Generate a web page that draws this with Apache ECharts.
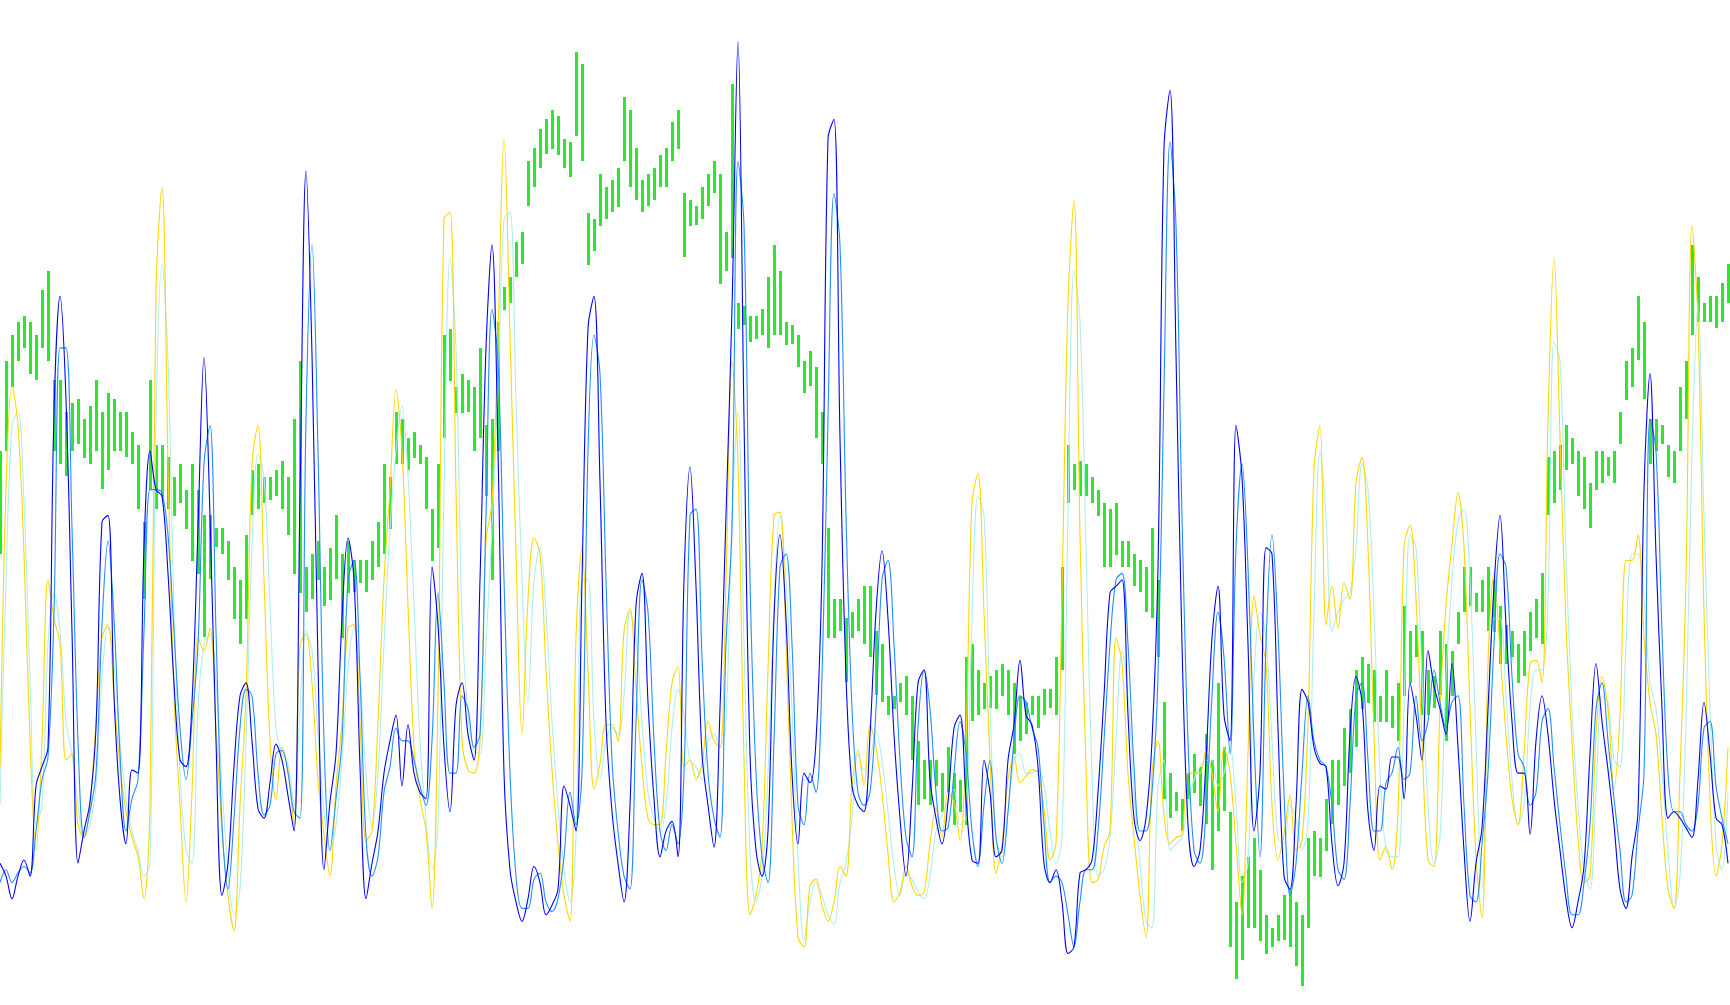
<!DOCTYPE html>
<html>
<head>
<meta charset="utf-8">
<script src="https://cdn.jsdelivr.net/npm/echarts@6/dist/echarts.min.js"></script>
<style>
html,body{margin:0;padding:0;background:#fff;overflow:hidden;}
#chart{width:1730px;height:1005px;}
</style>
</head>
<body>
<div id="chart"></div>
<script>
// bar index labels (289 bars)
const categories = Array.from({length: 289}, (_, i) => String(i + 1));

// Level scale: 0 (top) .. 1560 (bottom) ; axis is inverted
const yellowLine = [1190,760,600,660,860,1150,1320,1150,900,960,1000,1180,1170,1280,1300,1250,1120,990,970,1080,1190,1260,1300,1330,1395,1250,450,290,720,1080,1250,1400,1230,990,1010,975,1130,1290,1390,1445,1250,1080,
720,660,900,1150,1240,1160,1195,1280,1000,985,1060,1210,1295,1360,1220,1120,975,970,1120,1305,1290,1120,900,760,605,700,940,1160,1240,1290,1410,1080,340,330,760,1150,1195,1200,1150,840,780,
520,215,520,860,1140,930,835,860,1040,1195,1310,1390,1430,990,850,1040,1225,1185,1125,1125,1150,980,945,1070,1190,1270,1280,1280,1170,1060,1035,1190,1180,1210,1185,1120,1150,1160,900,560,720,
1180,1420,1390,1320,1040,800,795,1000,1270,1455,1470,1375,1365,1405,1430,1400,1345,1360,1220,1165,1220,1125,1160,1230,1325,1400,1385,1345,1375,1390,1385,1310,1255,1300,1230,1245,1305,1150,780,735,950,
1180,1355,1310,1210,1175,1215,1205,1195,1200,1255,1335,1310,920,470,310,830,1190,1370,1365,1315,1290,990,1030,1200,1300,1390,1455,1200,1150,1265,1310,1300,1295,1200,1200,1200,1165,1200,1260,1160,1200,
1310,1420,1170,925,985,1030,1250,1335,1295,1235,1320,1305,1120,730,660,970,910,975,905,930,750,710,850,1140,1335,1315,1350,1260,850,815,930,1150,1335,1345,1100,940,845,765,850,1100,1330,1425,
1030,890,1010,1140,1240,1280,1170,1030,1025,1060,650,400,680,970,1150,1300,1370,1360,1140,1050,1100,1225,1110,870,870,830,990,1090,1140,1270,1380,1410,1200,900,350,500,950,1240,1360,1310,1160];

const cyanLine = [1250,900,660,640,780,1050,1280,1250,1000,920,980,1120,1170,1250,1300,1280,1220,1050,975,1030,1150,1240,1290,1320,1360,1340,650,410,560,950,1200,1320,1340,1100,1000,985,1060,1220,1350,1420,1380,1150,
850,705,740,940,1130,1170,1185,1250,1100,980,1010,1140,1260,1320,1280,1180,1040,975,1050,1200,1285,1200,1000,820,700,630,740,940,1150,1270,1350,1280,760,400,540,960,1110,1165,1170,1000,820,
600,340,330,620,900,1090,900,850,950,1120,1250,1350,1400,1300,900,900,1120,1210,1150,1130,1140,1080,950,990,1120,1230,1270,1290,1250,1130,1070,1110,1180,1190,1210,1150,1140,1160,1120,800,640,
1000,1320,1400,1360,1200,940,800,900,1100,1330,1460,1400,1370,1390,1420,1435,1370,1340,1270,1170,1195,1180,1135,1180,1260,1345,1390,1355,1365,1385,1395,1360,1290,1265,1245,1225,1280,1270,960,770,800,
1100,1300,1330,1260,1180,1170,1200,1200,1195,1220,1290,1340,1300,800,420,500,850,1200,1360,1350,1300,1150,1010,1080,1230,1340,1430,1440,1220,1180,1320,1310,1300,1250,1210,1190,1180,1180,1220,1200,1160,
1250,1370,1340,1050,950,990,1150,1300,1310,1250,1270,1320,1280,950,700,800,980,950,930,920,850,720,760,950,1200,1320,1330,1330,1100,830,850,1050,1250,1340,1300,1050,900,810,790,900,1150,1380,
1150,960,960,1080,1210,1280,1250,1100,1040,1040,930,530,560,860,1100,1250,1350,1380,1230,1080,1090,1180,1190,1000,860,860,930,1060,1100,1200,1320,1410,1360,1120,700,470,800,1100,1310,1350,1230];

const blueLine = [1340,1360,1395,1360,1335,1360,1220,1190,1160,640,460,620,980,1340,1290,1245,1130,810,800,1080,1240,1310,1195,1200,850,700,760,770,890,1060,1180,1190,1090,820,555,800,1150,1390,1340,1190,1080,1060,
1150,1255,1270,1215,1155,1180,1235,1290,770,265,550,1030,1350,1245,1170,960,835,900,1190,1395,1340,1290,1200,1150,1110,1220,1125,1200,1230,1240,880,970,1160,1260,1095,1060,1140,1180,900,540,380,
700,1200,1350,1400,1430,1395,1345,1370,1420,1405,1380,1220,1250,1290,900,510,460,750,1120,1260,1340,1400,1250,940,890,1090,1240,1330,1290,1275,1330,900,725,910,1170,1250,1315,1100,800,480,65,
650,1170,1320,1360,1290,960,830,960,1200,1310,1200,1215,1150,880,215,185,680,1050,1220,1250,1260,1140,950,855,960,1140,1270,1360,1230,1060,1040,1210,1270,1310,1245,1130,1110,1240,1335,1340,1180,
1230,1330,1320,1180,1125,1025,1110,1125,1190,1340,1370,1350,1400,1480,1470,1355,1350,1335,1230,1080,920,910,900,1110,1270,1305,1270,1150,880,230,140,550,1000,1280,1345,1320,1180,990,910,1110,1150,
660,740,1000,1290,1200,850,860,1130,1360,1380,1250,1070,1090,1160,1185,1190,1310,1375,1340,1140,1050,1090,1260,1320,1220,1225,1175,1175,1240,1060,1110,1180,1010,1065,1100,1140,1030,1160,1320,1430,1340,1285,
1100,910,800,970,1120,1200,1200,1295,1150,1080,1140,1240,1320,1395,1440,1400,1345,1170,1030,1120,1195,1280,1380,1410,1330,1260,760,580,860,1100,1270,1260,1270,1285,1300,1210,1090,1170,1270,1280,1340];

const dodgerLine = [1370,1350,1370,1355,1345,1355,1290,1210,1175,950,540,540,820,1150,1300,1260,1200,970,840,960,1170,1290,1240,1210,980,760,760,765,830,980,1130,1210,1120,1000,720,660,980,1280,1380,1270,1130,1070,
1080,1200,1265,1250,1170,1165,1200,1260,1270,650,380,700,1150,1320,1240,1150,900,870,1050,1300,1360,1330,1230,1190,1130,1150,1150,1180,1220,1250,1150,920,1060,1200,1200,1080,1100,1160,1140,800,480,
560,900,1200,1360,1410,1410,1365,1355,1400,1415,1395,1330,1230,1280,1200,700,520,580,900,1180,1290,1360,1380,1120,900,950,1150,1290,1320,1280,1310,1200,800,790,1020,1200,1270,1300,1000,820,250,
350,900,1200,1330,1370,1150,880,860,1000,1250,1280,1200,1230,1050,650,300,380,800,1100,1230,1250,1230,1100,900,870,1000,1180,1300,1330,1130,1040,1100,1230,1290,1285,1200,1120,1170,1290,1345,1250,
1180,1300,1340,1260,1150,1080,1090,1130,1160,1280,1370,1360,1370,1420,1470,1400,1350,1350,1290,1150,1000,900,890,1000,1190,1290,1290,1230,1050,600,220,350,800,1150,1320,1340,1260,1080,950,1020,1170,
850,720,880,1150,1330,1000,830,980,1230,1390,1340,1200,1080,1150,1180,1190,1250,1350,1365,1250,1080,1060,1180,1290,1290,1215,1200,1160,1210,1200,1080,1150,1120,1040,1090,1130,1090,1080,1250,1390,1400,1310,
1200,1000,860,880,1050,1170,1190,1250,1230,1120,1100,1190,1280,1360,1420,1420,1370,1280,1100,1060,1150,1240,1320,1400,1390,1290,1200,650,700,980,1200,1260,1260,1280,1290,1250,1130,1120,1220,1270,1310];

// green high-low bars: upper end (smaller level) and lower end
const barTop = [700,560,520,500,490,500,520,450,420,590,590,640,625,620,650,630,590,640,610,620,640,640,670,690,810,590,690,690,710,740,720,760,720,760,800,800,820,820,840,880,900,830,
730,720,740,740,730,715,740,650,560,880,860,840,880,850,800,860,840,870,870,870,840,810,720,740,640,650,680,670,690,710,790,720,520,510,600,580,590,600,540,660,650,
500,445,430,375,360,250,230,200,185,170,180,215,220,80,100,330,340,270,290,280,260,150,170,230,280,270,260,240,230,190,170,300,310,320,290,270,250,270,360,130,470,
475,490,490,480,430,380,420,500,505,520,560,545,570,640,820,930,930,960,950,930,910,910,980,1000,1080,1080,1060,1050,1080,1150,1180,1180,1180,1200,1160,1200,1210,1020,1000,1040,1060,
1050,1040,1030,1040,1060,1080,1090,1080,1080,1070,1070,1020,880,690,720,715,720,740,760,780,790,780,840,840,860,870,880,820,900,1090,1200,1230,1240,1200,1170,1190,1140,1180,1060,1160,1260,
1400,1360,1330,1300,1350,1420,1440,1420,1390,1380,1400,1420,1300,1290,1300,1240,1180,1180,1130,1100,1040,1020,1030,1040,1080,1040,1080,1060,940,980,970,980,1040,1050,980,1000,1010,950,880,880,920,900,
880,900,940,970,980,1000,980,950,930,890,710,700,690,660,680,700,710,750,700,700,710,700,640,560,540,460,500,650,650,660,690,700,600,560,380,430,470,460,460,440,410];

const barBottom = [860,700,600,560,540,580,590,540,560,700,720,740,700,690,710,720,700,760,730,700,700,710,720,790,930,760,790,770,790,800,780,820,870,890,990,900,850,860,900,960,1000,960,
800,790,780,775,770,790,830,890,920,950,930,900,940,930,900,990,920,920,905,920,900,880,860,820,720,720,730,710,720,790,870,850,680,590,640,640,640,700,680,770,900,
700,480,470,430,410,320,290,260,240,230,240,260,275,210,250,410,390,350,340,330,320,250,290,310,330,320,310,290,290,250,230,400,350,350,340,320,300,440,420,400,510,
505,530,525,520,540,520,520,535,535,570,610,600,680,720,990,990,980,1060,990,980,1000,1020,1080,1090,1110,1100,1090,1110,1180,1250,1240,1250,1220,1260,1230,1280,1260,1280,1120,1110,1100,
1100,1100,1080,1110,1170,1150,1140,1110,1130,1110,1100,1110,1040,780,760,770,770,780,800,880,880,860,880,880,910,920,950,960,1020,1240,1270,1260,1290,1240,1230,1250,1280,1350,1290,1260,1470,
1520,1490,1440,1440,1460,1480,1470,1460,1460,1470,1500,1530,1440,1360,1360,1320,1280,1250,1220,1200,1160,1100,1090,1120,1120,1120,1130,1150,1080,1060,1020,1110,1110,1100,1080,1150,1080,1000,950,940,950,950,
980,980,1030,1030,1020,1060,1050,1010,990,1000,800,780,760,730,720,770,790,820,760,750,740,750,690,620,600,560,620,720,700,690,740,750,700,650,520,500,500,500,510,500,470];

const barData = barTop.map((t, i) => [i, t, barBottom[i]]);

const chart = echarts.init(document.getElementById('chart'), null, {renderer: 'canvas'});
const lineSeries = (name, data, color) => ({
  name, type: 'line', data, symbol: 'none', smooth: 0.35,
  lineStyle: {color, width: 1.1}, itemStyle: {color}, silent: true
});
chart.setOption({
  animation: false,
  backgroundColor: '#ffffff',
  grid: {left: 0, right: 2, top: 0, bottom: 0},
  xAxis: {type: 'category', data: categories, boundaryGap: false, show: false},
  yAxis: {type: 'value', inverse: true, min: 0, max: 1560, show: false},
  series: [
    lineSeries('signal1', cyanLine, '#afeeee'),
    lineSeries('main1', yellowLine, '#ffd700'),
    {
      name: 'price', type: 'custom', data: barData, silent: true,
      encode: {x: 0, y: [1, 2]},
      renderItem: function (params, api) {
        const a = api.coord([api.value(0), api.value(1)]);
        const b = api.coord([api.value(0), api.value(2)]);
        return {
          type: 'rect',
          shape: {x: Math.round(a[0]) - 1, y: Math.round(a[1]), width: 3, height: Math.round(b[1] - a[1])},
          style: {fill: '#2ee62e'}
        };
      }
    },
    lineSeries('signal2', dodgerLine, '#1e90ff'),
    lineSeries('main2', blueLine, '#0000ff')
  ]
});
</script>
</body>
</html>
